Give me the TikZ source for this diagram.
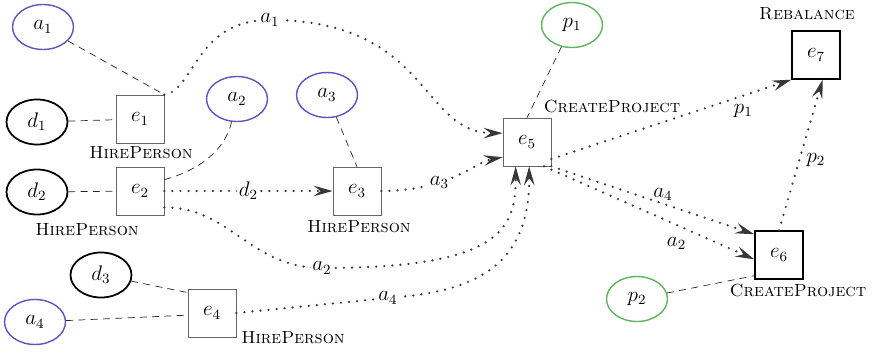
\documentclass[tikz,border=0pt]{standalone}
\usepackage{amsmath}
\usepackage{tikz}
\usetikzlibrary{arrows.meta,shapes.geometric}
\definecolor{attrblue}{RGB}{95,85,190}
\definecolor{projgreen}{RGB}{95,180,95}
\definecolor{flowgray}{RGB}{55,55,55}

\begin{document}
\begin{tikzpicture}[x=0.02cm,y=-0.02cm,>={Stealth[length=3.8mm,width=2.1mm,inset=1.4mm]},
  obj/.style={ellipse,minimum width=1.22cm,minimum height=0.9cm,inner sep=0pt,font=\large},
  attr/.style={obj,draw=attrblue,thick},
  actor/.style={obj,draw=black,line width=1pt},
  proj/.style={obj,draw=projgreen,thick},
  evt/.style={rectangle,draw=black!60,minimum size=0.96cm,inner sep=0pt,font=\large},
  kind/.style={font=\scshape},
  flow/.style={->,flowgray,line width=1.4pt,line cap=round,dash pattern=on 0pt off 4.6pt},
  link/.style={black!85,dash pattern=on 4pt off 3pt},
  tag/.style={fill=white,text=black,inner sep=1pt,font=\large},
  lbl/.style={text=black,font=\large}]
  \useasboundingbox (0,0) rectangle (873,352);
  % objects
  \node[attr] (a1) at (43,27) {$a_1$};
  \node[actor] (d1) at (37,122) {$d_1$};
  \node[actor] (d2) at (37,192) {$d_2$};
  \node[attr] (a2) at (237,99) {$a_2$};
  \node[attr] (a3) at (327,95) {$a_3$};
  \node[actor] (d3) at (101,275) {$d_3$};
  \node[attr] (a4) at (35,322) {$a_4$};
  \node[proj] (p1) at (572,25) {$p_1$};
  \node[proj] (p2) at (637,299) {$p_2$};
  % events
  \node[evt] (e1) at (140,119) {$e_1$};
  \node[evt] (e2) at (140,191) {$e_2$};
  \node[evt] (e3) at (357,191) {$e_3$};
  \node[evt] (e4) at (212,313) {$e_4$};
  \node[evt] (e5) at (527,142) {$e_5$};
  \node[evt,draw=black,thick] (e6) at (779,255) {$e_6$};
  \node[evt,draw=black,thick] (e7) at (816,55) {$e_7$};
  % event types
  \node[kind] (k1) at (141,153) {HirePerson};
  \node[kind] (k2) at (87,230) {HirePerson};
  \node[kind] (k3) at (359,227) {HirePerson};
  \node[kind] (k4) at (293,338) {HirePerson};
  \node[kind] (k5) at (612,106) {CreateProject};
  \node[kind] (k6) at (798,290) {CreateProject};
  \node[kind] (k7) at (807,14) {Rebalance};
  % participation
  \draw[link] (a1) -- (e1.north east);
  \draw[link] (d1) -- (e1);
  \draw[link] (d2) -- (e2);
  \draw[link] (a2) .. controls (225,150) and (200,170) .. (e2.25);
  \draw[link] (a3) -- (e3.north);
  \draw[link] (p1) -- (e5.north);
  \draw[link] (d3) -- (e4.140);
  \draw[link] (a4) -- (e4.185);
  \draw[link] (p2) -- (e6.-140);
  % data flow
  \draw[flow] (e1.north east) .. controls (195,90) and (195,20) .. (270,20) node[tag] {$a_1$}
    .. controls (430,20) and (420,133) .. (e5.160);
  \draw[flow] (e2) -- node[tag] {$d_2$} (e3);
  \draw[flow] (e3.east) .. controls (450,191) and (475,162) .. node[tag,pos=0.35] {$a_3$} (e5.-148);
  \draw[flow] (e2.-34) .. controls (230,207) and (250,268) .. (322,268) node[tag] {$a_2$}
    .. controls (500,268) and (516,230) .. (e5.-115);
  \draw[flow] (e4.east) -- (388,298) node[tag] {$a_4$}
    .. controls (470,292) and (530,270) .. (e5.-85);
  \draw[flow] (e5.-35) -- node[lbl,pos=0.8,below=1pt] {$p_1$} (e7.south west);
  \draw[flow] (e5.-45) -- node[lbl,pos=0.55,above,inner sep=1pt] {$a_4$} (e6.140);
  \draw[flow] (e5.-55) -- node[lbl,pos=0.63,below=3pt] {$a_2$} (e6.190);
  \draw[flow] (e6.north) -- node[lbl,pos=0.47,right] {$p_2$} (e7.-75);
\end{tikzpicture}
\end{document}
